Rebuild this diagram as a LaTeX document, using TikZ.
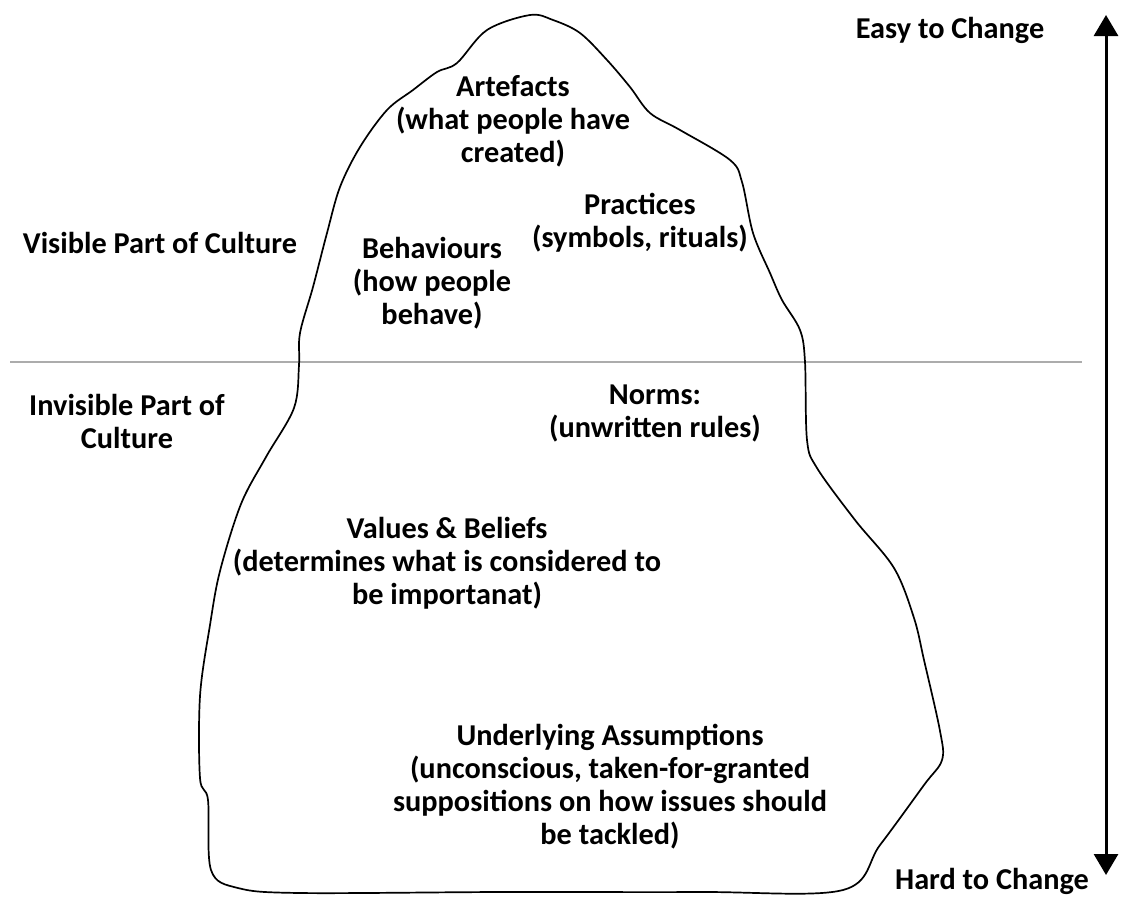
\documentclass[tikz,border=0pt]{standalone}
\usepackage{fontspec}
\setmainfont{Carlito}
\usetikzlibrary{arrows.meta}
\usetikzlibrary{positioning}

\tikzset{
  lbl/.style={align=center, font=\bfseries\fontsize{30.3}{33}\selectfont, inner sep=0pt},
  berg/.style={line width=1.7pt, black},
}

\begin{document}
\begin{tikzpicture}[x=1pt, y=-1pt]
        \useasboundingbox (0,0) rectangle (1121,897);

        % Water line
        \coordinate (wl) at (10,362);
        \coordinate (wr) at (1082,362);
        \draw[gray!65, line width=2.4pt] (wl) -- (wr);

        % Iceberg outline
        \draw[berg] plot[smooth cycle, tension=0.55] coordinates {
            (530,15) (553,20) (580,33) (607,60) (630,87) (650,113) (680,130)
            (730,160) (742,182) (753,233) (770,273) (782,300) (800,330)
            (805,362) (807,440) (817,468) (855,520) (894,568) (914,618)
            (924,660) (940,731) (942,760) (924,785) (880,845) (843,890)
            (700,892) (500,892) (300,893) (238,888) (211,870) (208,800)
            (200,778) (200,696) (210,625) (220,571) (241,504) (266,457)
            (294,408) (299,365) (300,333) (313,287) (327,233) (340,187)
            (360,147) (387,110) (413,90) (437,72) (457,63) (487,30)};

        % Change scale
        \coordinate (easy) at (1106,15);
        \coordinate (hard) at (1106,875);
        \draw[{Triangle[width=24pt,length=21pt]}-{Triangle[width=24pt,length=21pt]}, line width=3pt] (easy) -- (hard);
        \node[lbl] (easytxt) at (950,30) {Easy to Change};
        \node[lbl] (hardtxt) at (992,881) {Hard to Change};

        % Side labels
        \node[lbl] (visible) at (160,243) {Visible Part of Culture};
        \node[lbl] (invisible) at (127,421) {Invisible Part of\\Culture};

        % Layers of the iceberg
        \node[lbl] (artefacts) at (513,121) {Artefacts\\(what people have\\created)};
        \node[lbl] (practices) at (640,223) {Practices\\(symbols, rituals)};
        \node[lbl] (behaviours) at (432,283) {Behaviours\\(how people\\behave)};
        \node[lbl] (norms) at (655,413) {Norms:\\(unwritten rules)};
        \node[lbl] (values) at (447,563) {Values \& Beliefs\\(determines what is considered to\\be importanat)};
        \node[lbl] (assumptions) at (610,787) {Underlying Assumptions\\(unconscious, taken-for-granted\\suppositions on how issues should\\be tackled)};
    \end{tikzpicture}
\end{document}
